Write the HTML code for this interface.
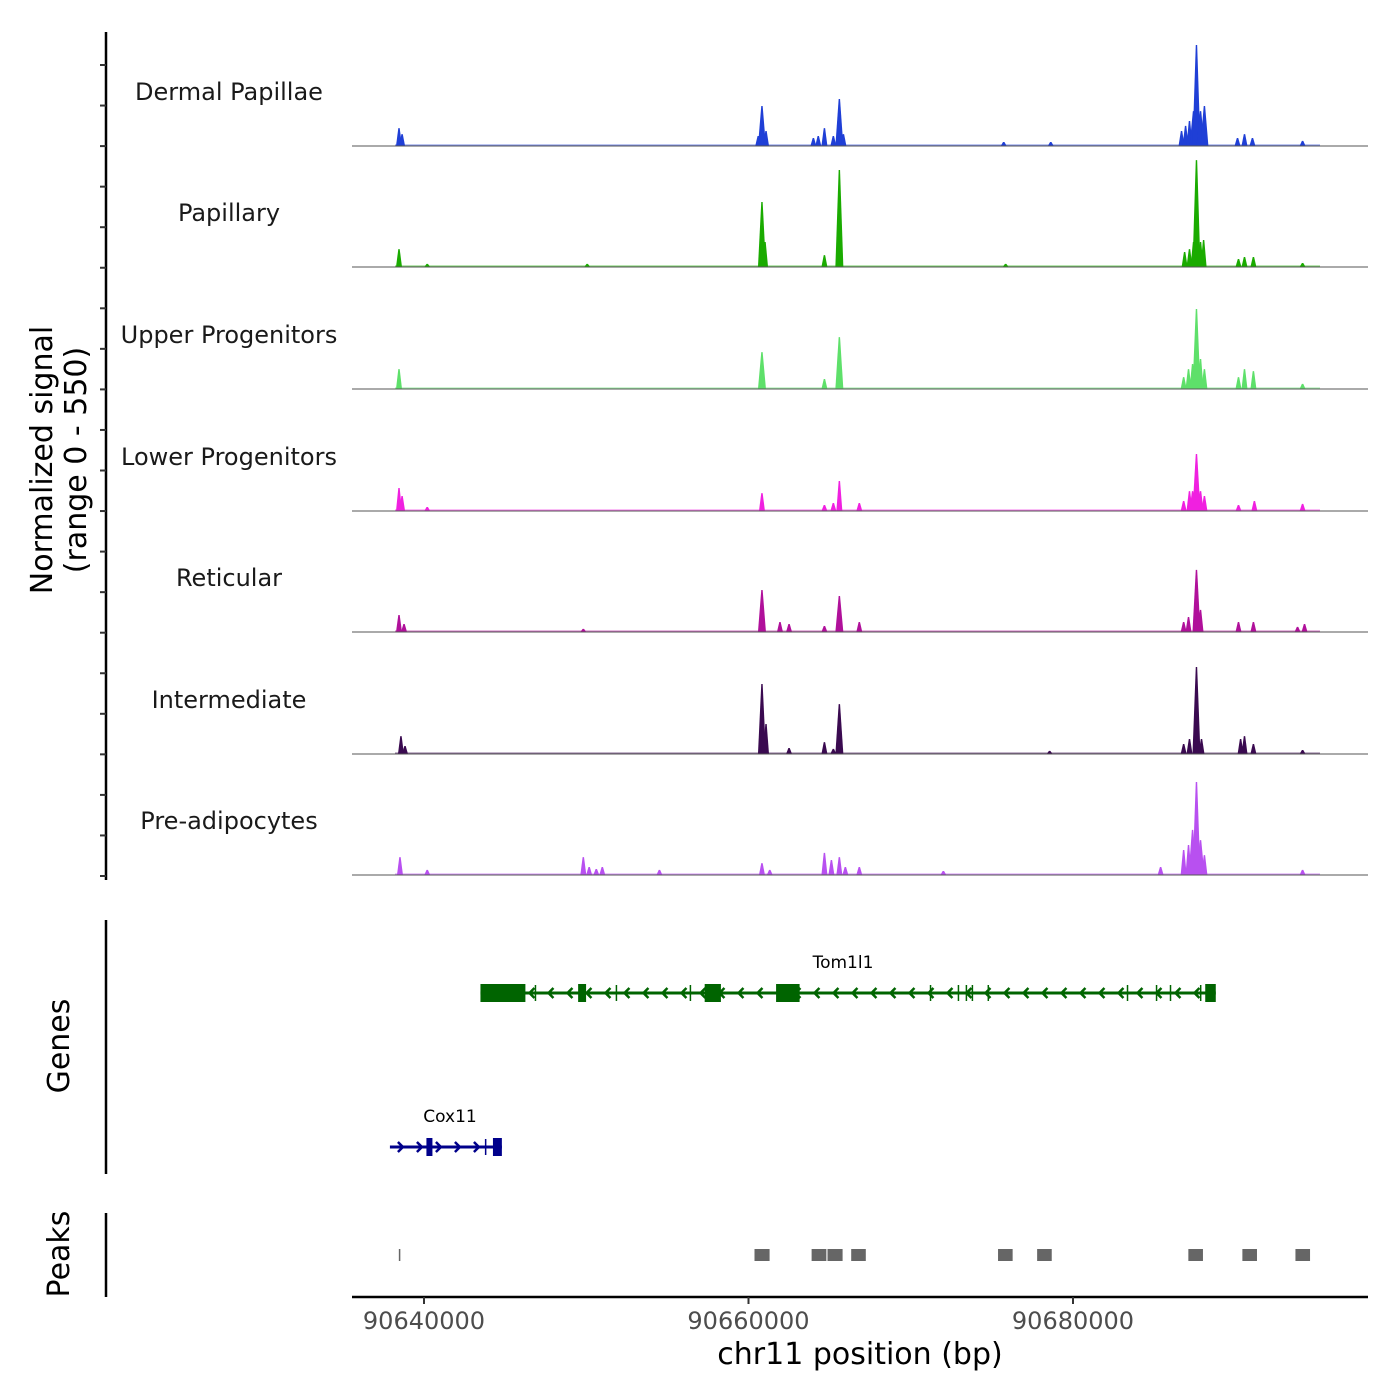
<!DOCTYPE html>
<html><head><meta charset="utf-8"><style>
body{margin:0;background:#fff}
svg{display:block;font-family:"DejaVu Sans","Liberation Sans",sans-serif}
</style></head><body>
<svg id="chart" width="1400" height="1400" viewBox="0 0 1400 1400" xmlns="http://www.w3.org/2000/svg">
<rect width="1400" height="1400" fill="#fff"/>
<g id="tracks"></g>
<g id="axes"></g>
<g id="genes"></g>
<g id="peaks"></g>
</svg>
<script>
// ---- data ----
const trackNames = ["Dermal Papillae","Papillary","Upper Progenitors","Lower Progenitors","Reticular","Intermediate","Pre-adipocytes"];
const trackColors = ["#1f3fd6","#1aab00","#5ee06a","#f020e0","#b0109a","#3a0a50","#b850f0"];
// peak centres (bp) and heights (normalized signal 0-550)
const peakPosDP  = [90638460,90638650,90660830,90660600,90661080,90664000,90664300,90664680,90665230,90665600,90665850,90675730,90678630,90686690,90686940,90687180,90687430,90687610,90687860,90688100,90690140,90690570,90691060,90694150];
const peakValDP  = [81,54,181,45,68,36,45,81,45,213,54,18,18,68,91,113,158,457,158,181,36,54,36,23];
const peakPosPap = [90638460,90660830,90661020,90664680,90665600,90686880,90687180,90687430,90687610,90687860,90688050,90690200,90690570,90691120,90694150,90675850,90640200,90650060];
const peakValPap = [81,294,113,54,439,68,81,113,484,113,122,36,45,45,18,14,14,14];
const peakPosUp  = [90638460,90660830,90664680,90665600,90686820,90687120,90687370,90687610,90687860,90688100,90690200,90690570,90691120,90694150];
const peakValUp  = [90,167,45,235,54,90,113,362,136,90,54,90,81,23];
const peakPosLow = [90638460,90638650,90640200,90660830,90664680,90665230,90665600,90666830,90686820,90687180,90687370,90687610,90687860,90688100,90690200,90691180,90694150];
const peakValLow = [104,68,18,81,27,36,136,36,45,90,90,258,90,68,27,45,32];
const peakPosRet = [90638460,90638770,90649820,90660830,90661940,90662500,90664680,90665600,90666830,90686820,90687120,90687610,90687860,90690200,90691120,90693840,90694270];
const peakValRet = [77,36,14,190,45,36,27,163,45,45,68,281,100,45,45,23,36];
const peakPosInt = [90638580,90638830,90660830,90661080,90662500,90664680,90665230,90665600,90678560,90686820,90687180,90687610,90687920,90690330,90690570,90691120,90694150];
const peakValInt = [81,36,317,136,27,54,23,226,14,45,68,394,68,68,81,45,18];
const peakPosPre = [90638520,90640200,90649820,90650180,90650620,90650990,90654510,90660830,90661310,90664680,90665110,90665600,90665970,90666830,90672010,90685400,90686820,90687120,90687370,90687610,90687860,90688100,90694150];
const peakValPre = [81,23,81,36,27,36,23,54,23,100,68,81,36,36,18,36,113,136,204,421,158,90,23];
const trackPos = [peakPosDP,peakPosPap,peakPosUp,peakPosLow,peakPosRet,peakPosInt,peakPosPre];
const trackVal = [peakValDP,peakValPap,peakValUp,peakValLow,peakValRet,peakValInt,peakValPre];
const peakRegionStart = [90638450,90660370,90663890,90664870,90666330,90675380,90677790,90687110,90690440,90693710];
const peakRegionEnd   = [90638470,90661300,90664800,90665800,90667230,90676280,90678690,90688010,90691340,90694610];
const xTicks = [90640000,90660000,90680000];
const xTickLabels = ["90640000","90660000","90680000"];
const tomExonStart = [90643480,90649500,90657300,90661700,90688150];
const tomExonEnd   = [90646250,90649990,90658300,90663150,90688800];
const tomIntronTicks=[90646870,90651860,90656420,90671220,90672940,90673430,90673800,90674780,90683360,90685150,90686010,90687870];
const coxExonStart = [90640150,90644250];
const coxExonEnd   = [90640520,90644800];
// ---- scales ----
const X0=352,X1=1368,BP0=90635563,BP1=90698182;
const xs=bp=>X0+(bp-BP0)/(BP1-BP0)*(X1-X0);
const baselines=[146,267,389,511,632,754,875];
const TH=121.5, YMAX=550;
const ys=(v,i)=>baselines[i]-v/YMAX*TH;
const NS="http://www.w3.org/2000/svg";
function mk(tag,attrs,parent){const e=document.createElementNS(NS,tag);for(const k in attrs)e.setAttribute(k,attrs[k]);parent.appendChild(e);return e;}
const gT=document.getElementById('tracks');
trackNames.forEach((nm,i)=>{
  const g=mk('g',{},gT);
  
  
  const t=mk('text',{x:229,y:baselines[i]-54+8,'text-anchor':'middle','font-size':24,fill:'#1a1a1a'},g);
  t.textContent=nm;
  
  
  const noise=mk('rect',{x:395,y:baselines[i]-1.5,width:925,height:1.5,fill:trackColors[i],opacity:0.6},g);
  
  
  trackPos[i].forEach((bp,j)=>{
    const cx=xs(bp), top=ys(trackVal[i][j],i), b=baselines[i];
    const hw=trackVal[i][j]>150?4:3;
    const p=mk('path',{d:`M${cx-hw},${b}L${cx-0.7},${top}L${cx+0.7},${top}L${cx+hw},${b}Z`,fill:trackColors[i]},g);
    
    
  });
  const bl=mk('line',{x1:X0,x2:X1,y1:baselines[i],y2:baselines[i],stroke:'#555','stroke-width':1},g);
  
  
});
// axes
const gA=document.getElementById('axes');
function line(x1,y1,x2,y2,w,c,name){const l=mk('line',{x1,y1,x2,y2,stroke:c,'stroke-width':w},gA);return l;}
line(106,32,106,880,2.5,'#000','signal-y-axis');
for(let y=65;y<=880;y+=40.55){line(100,y,106,y,2,'#333','y-tick');}
line(106,920,106,1174,2.5,'#000','genes-y-axis');
line(106,1213,106,1297,2.5,'#000','peaks-y-axis');
line(352,1297,1368,1297,2.5,'#000','x-axis');
xTicks.forEach((bp,i)=>{
  line(xs(bp),1297,xs(bp),1304,2,'#333','x-tick');
  const t=mk('text',{x:xs(bp),y:1329,'text-anchor':'middle','font-size':24,fill:'#4d4d4d'},gA);
  t.textContent=xTickLabels[i];
  
  
});
function txt(s,x,y,size,rot,name){const t=mk('text',{x,y,'text-anchor':'middle','font-size':size,fill:'#000',transform:rot?`rotate(-90 ${x} ${y})`:''},gA);t.textContent=s;}
txt('chr11 position (bp)',860,1364,30,false,'x-axis-title');
txt('Normalized signal',52,460,30,true,'y-axis-title');
txt('(range 0 - 550)',86,460,30,true,'y-axis-range');
txt('Genes',69,1046,30,true,'genes-axis-title');
txt('Peaks',69,1254,30,true,'peaks-axis-title');
// genes
const gG=document.getElementById('genes');
function gene(name,start,end,y,col,exS,exE,ticks,dir,lx,ly){
  const g=mk('g',{},gG);
  
  
  mk('line',{x1:xs(start),x2:xs(end),y1:y,y2:y,stroke:col,'stroke-width':3},g);
  for(let x=xs(start)+12;x<xs(end)-8;x+=19){
    const d=dir<0?`M${x+4},${y-5}L${x-1},${y}L${x+4},${y+5}`:`M${x-4},${y-5}L${x+1},${y}L${x-4},${y+5}`;
    mk('path',{d,stroke:col,'stroke-width':2.5,fill:'none'},g);
  }
  ticks.forEach(bp=>mk('line',{x1:xs(bp),x2:xs(bp),y1:y-8,y2:y+8,stroke:col,'stroke-width':1.5},g));
  exS.forEach((s,j)=>{const r=mk('rect',{x:xs(s),y:y-9,width:Math.max(4,xs(exE[j])-xs(s)),height:18,fill:col},g);});
  const t=mk('text',{x:lx,y:ly,'text-anchor':'middle','font-size':17,fill:'#000'},g);t.textContent=name;
  
  
}
gene('Tom1l1',90643480,90688800,993,'#006400',tomExonStart,tomExonEnd,tomIntronTicks,-1,843,968);
gene('Cox11',90637900,90644800,1147,'#00008b',coxExonStart,coxExonEnd,[90643800],1,450,1122);
// peaks
const gP=document.getElementById('peaks');
peakRegionStart.forEach((s,i)=>{
  const w=xs(peakRegionEnd[i])-xs(s);
  const r=mk('rect',{x:xs(s),y:1249,width:Math.max(1.5,w),height:12,fill:'#666'},gP);
  
  
});
</script>
</body></html>
